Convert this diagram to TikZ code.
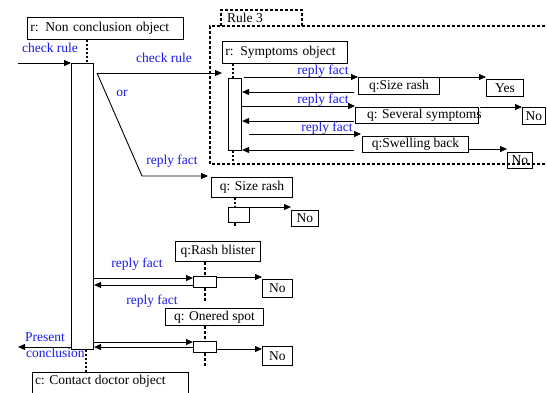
\documentclass[tikz,border=0pt]{standalone}
\usepackage{fontspec}
\setmainfont{Liberation Serif}
\usetikzlibrary{arrows.meta}
\definecolor{lblue}{RGB}{25,25,235}
\begin{document}
\begin{tikzpicture}[x=1pt,y=-1pt,
  box/.style={draw, line width=0.9pt, inner sep=0pt, anchor=north west, font=\fontsize{13.5}{15}\selectfont},
  bar/.style={draw, line width=1.1pt, inner sep=0pt, anchor=north west},
  txt/.style={inner sep=0pt, font=\fontsize{13.5}{15}\selectfont},
  lbl/.style={text=lblue, inner sep=0pt, font=\fontsize{13.5}{15}\selectfont},
  arr/.style={line width=0.9pt, -{Triangle[length=7pt,width=6pt]}},
  life/.style={line width=1.2pt, dash pattern=on 2pt off 2pt},
  thlife/.style={line width=2.6pt, dash pattern=on 3pt off 2pt},
  frame/.style={line width=2.6pt, dash pattern=on 3pt off 2pt}]
\useasboundingbox (0,0) rectangle (547,392);

% Rule 3 frame
\draw[frame] (550,26) -- (210,26) -- (210,164) -- (550,164);
\draw[line width=1.8pt, dash pattern=on 3pt off 2pt] (221,26) -- (221,10) -- (302,10) -- (302,26);
\node[txt, anchor=west] (rule) at (227,18) {Rule 3};

% main object
\node[box, text width=150pt, align=left, inner xsep=3pt, minimum height=22pt] (nco) at (27,17) {r: Non conclusion object};
\node[bar, minimum width=22pt, minimum height=286pt] (mbar) at (71,63) {};
\draw[life] (nco.south -| 87,0) -- (mbar.north -| 87,0);
\coordinate (cin) at (18,63);
\draw[arr] (cin) -- (mbar.north west);
\node[lbl] (l1) at (50,48) {check rule};

% check rule / or
\coordinate (o1) at (97,73);
\coordinate (o2) at (142,176);
\coordinate (c1) at (222,73);
\coordinate (c2) at (208,176);
\draw[arr] (o1) -- (c1);
\draw[arr] (o1) -- (o2) -- (c2);
\node[lbl] (l2) at (164,58) {check rule};
\node[lbl] (l3) at (122,93) {or};
\node[lbl] (l4) at (172,161) {reply fact};

% symptoms object
\node[box, text width=119pt, align=left, inner xsep=3pt, minimum height=22pt] (sym) at (222,41) {r: Symptoms object};
\node[bar, minimum width=13pt, minimum height=72pt] (sbar) at (228,78) {};
\draw[life] (sym.south -| 233,0) -- (sbar.north -| 233,0);
\coordinate (sb1) at (233,162);
\draw[life] (sbar.south -| 233,0) -- (sb1);

\node[box, minimum width=81pt, minimum height=17pt] (q1) at (358,77) {q:Size rash};
\node[box, minimum width=37pt, minimum height=17pt] (yes) at (486,79) {Yes};
\node[box, minimum width=123pt, minimum height=16pt] (q2) at (355,107) {};
\node[txt, anchor=west] (q2t) at (367,115.5) {q: Several symptoms};
\node[box, minimum width=23pt, minimum height=17pt] (no1) at (522,107) {No};
\node[box, minimum width=106pt, minimum height=16pt] (q3) at (362,136) {q:Swelling back};
\node[box, minimum width=25pt, minimum height=16pt] (no2) at (507,152) {No};

\draw[arr] (244,77) -- (q1.north west);
\node[lbl] (l5) at (323,71) {reply fact};
\draw[arr] (q1.north east) -- (yes.west |- q1.north);
\draw[arr] (354,92) -- (sbar.east |- 0,92);
\draw[arr] (sbar.east |- 0,106) -- (q2.west |- 0,106);
\node[lbl] (l6) at (323,100) {reply fact};
\draw[arr] (480,107) -- (no1.north west);
\draw[arr] (354,121) -- (sbar.east |- 0,121);
\draw[arr] (249,134) -- (361,134);
\node[lbl] (l7) at (327,128) {reply fact};
\draw[arr] (q3.east |- 0,149) -- (no2.west |- 0,149);
\draw[arr] (354,150) -- (sbar.east |- 0,150);

% size rash (outside)
\node[box, minimum width=81pt, minimum height=20pt] (q4) at (211,177) {q: Size rash};
\node[box, minimum width=21pt, minimum height=15pt] (a2) at (228,207) {};
\node[box, minimum width=27pt, minimum height=16pt] (no3) at (291,210) {No};
\draw[life] (q4.south -| 235,0) -- (a2.north -| 235,0);
\draw[thlife] (a2.south -| 235,0) -- (235,227);
\draw[arr] (a2.north east) -- (no3.west |- a2.north);

% rash blister
\node[box, minimum width=85pt, minimum height=20pt] (rb) at (175,241) {q:Rash blister};
\node[box, minimum width=23pt, minimum height=11pt] (a3) at (193,276) {};
\node[box, minimum width=30pt, minimum height=18pt] (no4) at (262,279) {No};
\draw[thlife] (rb.south -| 205,0) -- (a3.north -| 205,0);
\draw[thlife] (a3.south -| 205,0) -- (205,302);
\draw[arr] (mbar.east |- 0,278) -- (a3.west |- 0,278);
\draw[arr] (a3.west |- 0,285) -- (mbar.east |- 0,285);
\node[lbl] (l8) at (137,264) {reply fact};
\draw[arr] (a3.east |- 0,277) -- (no4.west |- 0,277);

% one red spot
\node[lbl] (l9) at (152,301) {reply fact};
\node[box, minimum width=98pt, minimum height=17pt] (ors) at (165,308) {q: Onered spot};
\node[box, minimum width=23pt, minimum height=11pt] (a4) at (193,341) {};
\node[box, minimum width=30pt, minimum height=19pt] (no5) at (262,346) {No};
\draw[thlife] (ors.south -| 205,0) -- (a4.north -| 205,0);
\draw[thlife] (a4.south -| 205,0) -- (205,366);
\draw[arr] (mbar.east |- 0,342) -- (a4.west |- 0,342);
\draw[arr] (a4.west |- 0,347) -- (mbar.east |- 0,347);
\draw[arr] (a4.east |- 0,349) -- (no5.west |- 0,349);

% present conclusion
\coordinate (pc) at (18,347);
\draw[arr] (mbar.west |- 0,347) -- (pc);
\node[lbl, anchor=west] (l10) at (25,337) {Present};
\node[lbl, anchor=west] (l11) at (26,353) {conclusion};

% contact doctor
\node[box, text width=150pt, align=left, inner xsep=3pt, minimum height=26pt] (cdo) at (32,372) {};
\node[txt, anchor=west] (cdot) at (35,381) {c: Contact doctor object};
\draw[life] (mbar.south -| 86,0) -- (cdo.north -| 86,0);
\end{tikzpicture}
\end{document}
